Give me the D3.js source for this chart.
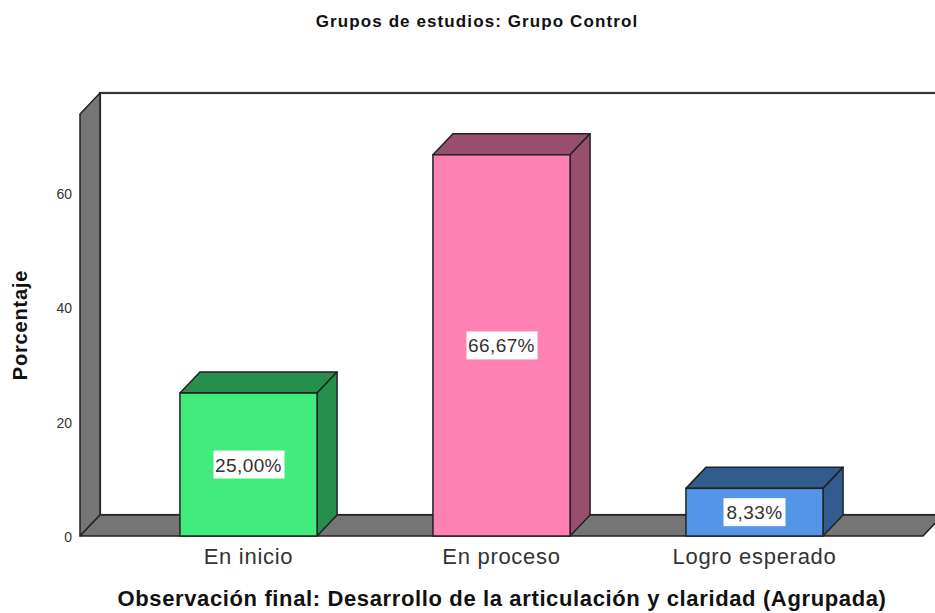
<!DOCTYPE html>
<html>
<head>
<meta charset="utf-8">
<script src="https://cdn.jsdelivr.net/npm/d3@7/dist/d3.min.js"></script>
<style>
html, body { margin: 0; padding: 0; background: #fff; overflow: hidden; }
text { font-family: "Liberation Sans", Arial, sans-serif; }
</style>
</head>
<body>
<svg id="chart" width="935" height="613"></svg>
<script>
var categorias = ["En inicio", "En proceso", "Logro esperado"];
var porcentajes = [25.00, 66.67, 8.33];
var etiquetas = ["25,00%", "66,67%", "8,33%"];
var colores = ["#41ec7d", "#ff80b3", "#5395e6"];
var coloresOscuros = ["#278f4c", "#9a4e6d", "#335c8e"];
var ticks = [0, 20, 40, 60];

var svg = d3.select("#chart");
var dx = 20, dy = 21;
var gris = "#757575", linea = "#222";

var x = d3.scaleBand().domain(categorias).range([80, 923]).paddingInner(.458).paddingOuter(.395);
var y = d3.scaleLinear().domain([0, 73.8]).range([536, 114]);

var y0 = y(0), yTop = y(73.8);

// paredes y piso
svg.append("rect").attr("x", 80 + dx).attr("y", yTop - dy).attr("width", 860).attr("height", y0 - yTop)
  .attr("fill", "#fff").attr("stroke", "#333").attr("stroke-width", 2.2);
svg.append("path")
  .attr("d", d3.line()([[80, yTop], [80 + dx, yTop - dy], [80 + dx, y0 - dy], [80, y0]]) + "Z")
  .attr("fill", gris).attr("stroke", linea).attr("stroke-width", 1.5).attr("stroke-linejoin", "round");
svg.append("path")
  .attr("d", d3.line()([[80, y0], [80 + dx, y0 - dy], [923 + dx, y0 - dy], [923, y0]]) + "Z")
  .attr("fill", gris).attr("stroke", linea).attr("stroke-width", 1.5).attr("stroke-linejoin", "round");

// barras
var barra = svg.append("g").selectAll("g").data(categorias).enter().append("g");

barra.append("path")
  .attr("d", function(d, i) {
    var x0 = x(d), x1 = x0 + x.bandwidth(), t = y(porcentajes[i]);
    return d3.line()([[x0, t], [x0 + dx, t - dy], [x1 + dx, t - dy], [x1, t]]) + "Z";
  })
  .attr("fill", function(d, i) { return coloresOscuros[i]; })
  .attr("stroke", linea).attr("stroke-width", 1.5).attr("stroke-linejoin", "round");

barra.append("path")
  .attr("d", function(d, i) {
    var x1 = x(d) + x.bandwidth(), t = y(porcentajes[i]);
    return d3.line()([[x1, t], [x1 + dx, t - dy], [x1 + dx, y0 - dy], [x1, y0]]) + "Z";
  })
  .attr("fill", function(d, i) { return coloresOscuros[i]; })
  .attr("stroke", linea).attr("stroke-width", 1.5).attr("stroke-linejoin", "round");

barra.append("rect")
  .attr("x", function(d) { return x(d); })
  .attr("y", function(d, i) { return y(porcentajes[i]); })
  .attr("width", x.bandwidth())
  .attr("height", function(d, i) { return y0 - y(porcentajes[i]); })
  .attr("fill", function(d, i) { return colores[i]; })
  .attr("stroke", linea).attr("stroke-width", 1.5);

// etiquetas de valor
barra.append("rect")
  .attr("x", function(d, i) { return x(d) + x.bandwidth() / 2 - (i == 2 ? 31 : 35); })
  .attr("y", function(d, i) { return y(porcentajes[i] / 2) - 14; })
  .attr("width", function(d, i) { return i == 2 ? 62 : 71; })
  .attr("height", 28)
  .attr("fill", "#fff");

barra.append("text")
  .attr("x", function(d) { return x(d) + x.bandwidth() / 2; })
  .attr("y", function(d, i) { return y(porcentajes[i] / 2) + 7; })
  .attr("text-anchor", "middle")
  .attr("font-size", 19)
  .attr("letter-spacing", 0.4)
  .attr("fill", "#333")
  .text(function(d, i) { return etiquetas[i]; });

// ejes
svg.append("g").selectAll("text").data(ticks).enter().append("text")
  .attr("x", 72).attr("y", function(d) { return y(d) + 6; })
  .attr("text-anchor", "end").attr("font-size", 14).attr("fill", "#333")
  .text(function(d) { return d; });

svg.append("g").selectAll("text").data(categorias).enter().append("text")
  .attr("x", function(d) { return x(d) + x.bandwidth() / 2; })
  .attr("y", 564)
  .attr("text-anchor", "middle").attr("font-size", 22).attr("letter-spacing", 0.7).attr("fill", "#333")
  .text(function(d) { return d; });

svg.append("text").attr("x", 477).attr("y", 27).attr("text-anchor", "middle")
  .attr("font-size", 17).attr("font-weight", "bold").attr("letter-spacing", 1.1).attr("fill", "#111")
  .text("Grupos de estudios: Grupo Control");

svg.append("text").attr("x", 502).attr("y", 606).attr("text-anchor", "middle")
  .attr("font-size", 22).attr("font-weight", "bold").attr("letter-spacing", 0.63).attr("fill", "#111")
  .text("Observación final: Desarrollo de la articulación y claridad (Agrupada)");

svg.append("text").attr("transform", "translate(27,325) rotate(-90)").attr("text-anchor", "middle")
  .attr("font-size", 20).attr("font-weight", "bold").attr("letter-spacing", 0.8).attr("fill", "#111")
  .text("Porcentaje");
</script>
</body>
</html>
